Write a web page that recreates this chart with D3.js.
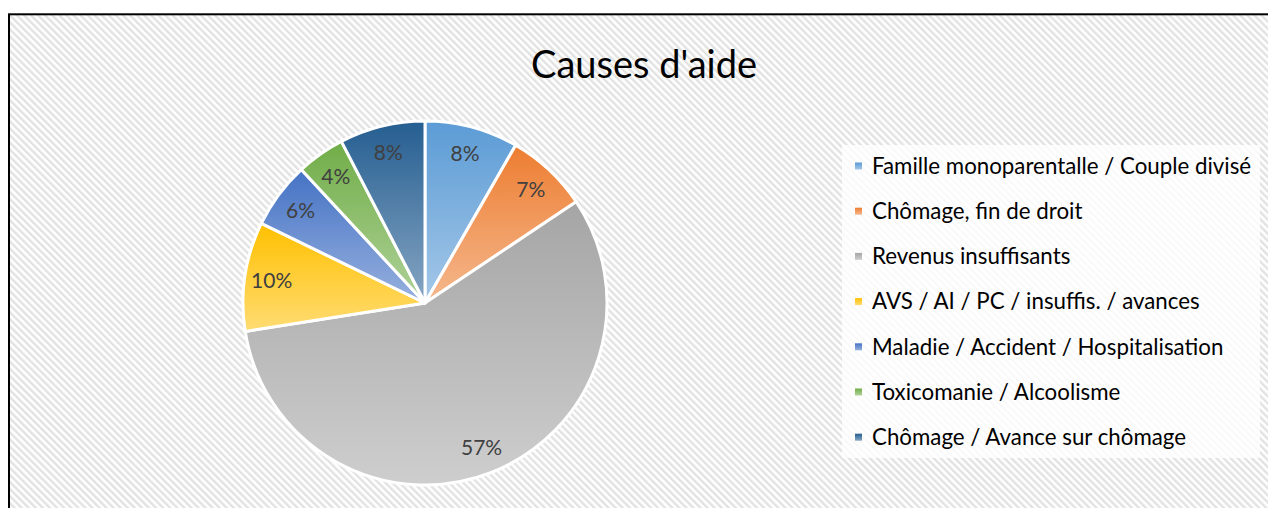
<!DOCTYPE html>
<html><head><meta charset="utf-8">
<script src="https://cdn.jsdelivr.net/npm/d3@7"></script>
<style>body{margin:0;background:#fff;}svg{display:block;}</style>
</head><body>
<script>
const categories = ["Famille monoparentalle / Couple divisé","Chômage, fin de droit","Revenus insuffisants","AVS / AI / PC / insuffis. / avances","Maladie / Accident / Hospitalisation","Toxicomanie / Alcoolisme","Chômage / Avance sur chômage"];
const values = [8.3, 7.3, 56.9, 9.7, 5.9, 4.3, 7.6];
const colors = ["#5B9BD5","#ED7D31","#A5A5A5","#FFC000","#4472C4","#70AD47","#255E91"];
const title = "Causes d'aide";

const W = 1268, H = 508;
const svg = d3.select("body").append("svg").attr("width", W).attr("height", H);
const defs = svg.append("defs");
const pat = defs.append("pattern").attr("id","hatch").attr("patternUnits","userSpaceOnUse")
  .attr("width",5).attr("height",5).attr("patternTransform","rotate(-45)");
pat.append("rect").attr("width",5).attr("height",5).attr("fill","#ffffff");
pat.append("rect").attr("width",2.4).attr("height",5).attr("fill","#e2e2e2");

colors.forEach((c,i)=>{
  const g = defs.append("linearGradient").attr("id","g"+i).attr("x1",0).attr("y1",0).attr("x2",0).attr("y2",1);
  g.append("stop").attr("offset","0%").attr("stop-color", c);
  g.append("stop").attr("offset","100%").attr("stop-color", d3.interpolateRgb(c,"#ffffff")(0.45));
});

svg.append("rect").attr("x",9).attr("y",14.3).attr("width",W+20).attr("height",H+20)
  .attr("fill","url(#hatch)").attr("stroke","#000").attr("stroke-width",2);

svg.append("text").attr("x",644).attr("y",78).attr("text-anchor","middle")
  .attr("font-family","Lato, 'Open Sans', sans-serif").attr("font-size",38).attr("fill","#000").text(title);

const cx = 425, cy = 303, R = 182;
const pie = d3.pie().sort(null).value(d=>d)(values);
const arc = d3.arc().innerRadius(0).outerRadius(R);
const lab = d3.arc().innerRadius(155).outerRadius(155);
const gp = svg.append("g").attr("transform",`translate(${cx},${cy})`);
gp.selectAll("path").data(pie).join("path").attr("d",arc)
  .attr("fill",(d,i)=>`url(#g${i})`).attr("stroke","#fff").attr("stroke-width",3).attr("stroke-linejoin","round");
const total = d3.sum(values);
gp.selectAll("text").data(pie).join("text")
  .attr("transform",d=>`translate(${lab.centroid(d)})`)
  .attr("text-anchor","middle").attr("dy","0.35em")
  .attr("font-family","Lato, 'Open Sans', sans-serif").attr("font-size",21).attr("fill","#404040")
  .text(d=>Math.round(d.data/total*100)+"%");

// legend
svg.append("rect").attr("x",842).attr("y",145).attr("width",418).attr("height",313).attr("fill","#fff").attr("opacity",0.8);
const lg = svg.append("g");
const rows = lg.selectAll("g").data(categories).join("g")
  .attr("transform",(d,i)=>`translate(855,${166 + i*45.2})`);
rows.append("rect").attr("x",0).attr("y",-3.5).attr("width",7).attr("height",7).attr("fill",(d,i)=>`url(#g${i})`);
rows.append("text").attr("x",17).attr("dy","0.35em")
  .attr("font-family","Lato, 'Open Sans', sans-serif").attr("font-size",22.3).attr("fill","#000").text(d=>d);
</script>
</body></html>
